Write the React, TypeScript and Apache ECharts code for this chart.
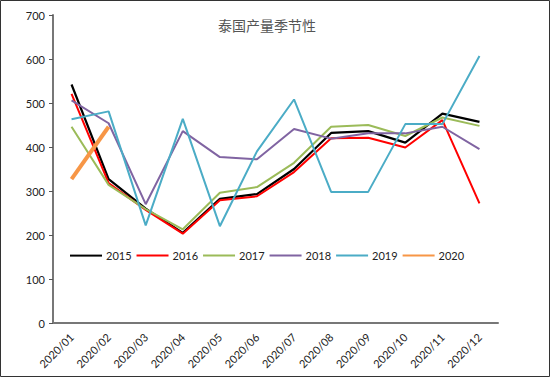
import React, { useEffect, useRef } from "react";
import * as echarts from "echarts";

const months = ["2020/01","2020/02","2020/03","2020/04","2020/05","2020/06","2020/07","2020/08","2020/09","2020/10","2020/11","2020/12"];
const y2015 = [542, 327, 260, 205, 282, 293, 350, 432, 436, 410, 476, 457];
const y2016 = [521, 318, 257, 203, 279, 288, 343, 420, 421, 399, 461, 272];
const y2017 = [446, 314, 259, 213, 296, 309, 364, 446, 450, 425, 467, 448];
const y2018 = [506, 454, 270, 436, 377, 372, 441, 419, 431, 431, 446, 395];
const y2019 = [463, 481, 222, 464, 220, 390, 508, 298, 298, 452, 452, 607];
const y2020 = [327, 446];
const yTicks = [0, 100, 200, 300, 400, 500, 600, 700];

const FONT = "Lato, 'Noto Sans', sans-serif";

export default function App() {
  const ref = useRef<HTMLDivElement>(null);
  useEffect(() => {
    document.body.style.margin = "0";
    const chart = echarts.init(ref.current!, null, { renderer: "svg" });
    const mk = (name: string, data: number[], color: string, width: number) => ({
      name,
      type: "line",
      data,
      symbol: "none",
      showSymbol: false,
      lineStyle: { color, width },
      itemStyle: { color },
    });
    chart.setOption({
      animation: false,
      backgroundColor: "#fff",
      title: {
        text: "泰国产量季节性",
        left: 262,
        textAlign: "center",
        top: 13,
        textStyle: { fontFamily: "'Noto Sans CJK SC', sans-serif", fontSize: 14, fontWeight: "normal", color: "#555" },
      },
      graphic: [
        { type: "rect", shape: { x: 0.5, y: 0.5, width: 549, height: 376 }, style: { fill: "none", stroke: "#333", lineWidth: 1 }, silent: true },
      ],
      legend: {
        left: 64,
        top: 245,
        itemWidth: 32,
        itemHeight: 14,
        itemGap: 4,
        itemStyle: { opacity: 0 },
        textStyle: { fontFamily: FONT, fontSize: 11, color: "#222", padding: [0, 0, 0, -1] },
        data: ["2015", "2016", "2017", "2018", "2019", "2020"],
      },
      grid: { left: 53, right: 52, top: 15, bottom: 54 },
      xAxis: {
        type: "category",
        data: months,
        boundaryGap: true,
        axisLine: { lineStyle: { color: "#777", width: 2 } },
        axisTick: { inside: true, length: 4, lineStyle: { color: "#555" } },
        axisLabel: { rotate: 45, interval: 0, fontFamily: FONT, fontSize: 11, color: "#222", margin: 12 },
        splitLine: { show: false },
      },
      yAxis: {
        type: "value",
        min: yTicks[0],
        max: yTicks[yTicks.length - 1],
        interval: 100,
        axisLine: { show: true, lineStyle: { color: "#777", width: 2 } },
        axisTick: { show: true, length: 4, lineStyle: { color: "#555" } },
        axisLabel: { fontFamily: FONT, fontSize: 11, color: "#222", margin: 8 },
        splitLine: { show: false },
      },
      series: [
        mk("2015", y2015, "#000000", 2.2),
        mk("2016", y2016, "#FF0000", 2),
        mk("2017", y2017, "#9BBB59", 2),
        mk("2018", y2018, "#8064A2", 2),
        mk("2019", y2019, "#4BACC6", 2),
        mk("2020", y2020, "#F79646", 4),
      ],
    });
    return () => chart.dispose();
  }, []);
  return <div ref={ref} style={{ width: 550, height: 377 }} />;
}
